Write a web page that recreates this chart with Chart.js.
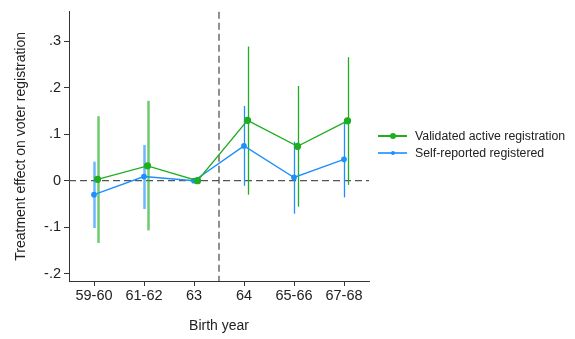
<!DOCTYPE html>
<html lang="en">
<head>
    <meta charset="UTF-8">
    <title>Treatment effect by birth year</title>
    <script src="https://cdn.jsdelivr.net/npm/chart.js"></script>
    <style>
        body {
            margin: 0;
            padding: 0;
            background: #fff;
            font-family: 'Liberation Sans', Arial, sans-serif;
        }
        #wrap {
            position: relative;
            width: 575px;
            height: 339px;
        }
        .legend {
            position: absolute;
            left: 378px;
            top: 127px;
            font-size: 12.3px;
            color: #222;
        }
        .legend-item {
            display: flex;
            align-items: center;
            height: 17.5px;
        }
        .legend-item .mark {
            position: relative;
            width: 29px;
            height: 1.5px;
            margin-right: 8px;
        }
        .legend-item .mark span {
            position: absolute;
            left: 50%;
            top: 50%;
            border-radius: 50%;
            transform: translate(-50%, -50%);
        }
        .green .mark { background: #1fae1f; }
        .green .mark span { width: 6px; height: 6px; background: #1fae1f; }
        .blue .mark { background: #4aa3ff; height: 2px; }
        .blue .mark span { width: 4px; height: 4px; background: #1e8fff; }
    </style>
</head>
<body>
    <div id="wrap">
        <canvas id="chart"></canvas>
        <div class="legend">
            <div class="legend-item green"><div class="mark"><span></span></div>Validated active registration</div>
            <div class="legend-item blue"><div class="mark"><span></span></div>Self-reported registered</div>
        </div>
    </div>

    <script>
        // data
        const categories = ['59-60', '61-62', '63', '64', '65-66', '67-68'];
        const yTicks = [-0.2, -0.1, 0, 0.1, 0.2, 0.3];

        const validated = [0.003, 0.032, 0, 0.130, 0.074, 0.129];
        const validatedLo = [-0.134, -0.107, null, -0.030, -0.056, -0.009];
        const validatedHi = [0.139, 0.172, null, 0.289, 0.204, 0.266];

        const selfReported = [-0.030, 0.009, 0, 0.075, 0.007, 0.046];
        const selfReportedLo = [-0.102, -0.061, null, -0.011, -0.071, -0.036];
        const selfReportedHi = [0.041, 0.077, null, 0.161, 0.084, 0.129];

        const cutoff = 2.5;   // between 63 and 64
        const greenShift = 0.07;

        const GREEN = '#1fae1f';
        const BLUE = '#1e8fff';

        function pts(vals, shift) {
            return vals.map((v, i) => ({ x: i + shift, y: v }));
        }

        // confidence intervals + reference lines, drawn through the chart scales
        const extras = {
            id: 'extras',
            beforeDatasetsDraw(chart) {
                const { ctx, chartArea: a, scales: { x, y } } = chart;
                ctx.save();
                ctx.strokeStyle = '#555';
                ctx.lineWidth = 1.3;
                ctx.setLineDash([7, 4]);
                const y0 = y.getPixelForValue(0);
                ctx.beginPath();
                ctx.moveTo(a.left, y0);
                ctx.lineTo(a.right, y0);
                ctx.stroke();
                const xc = x.getPixelForValue(cutoff);
                ctx.beginPath();
                ctx.moveTo(xc, a.top);
                ctx.lineTo(xc, a.bottom);
                ctx.stroke();
                ctx.setLineDash([]);

                const bars = [
                    [selfReportedLo, selfReportedHi, 0, BLUE, 'rgba(30,143,255,0.65)'],
                    [validatedLo, validatedHi, greenShift, GREEN, 'rgba(31,174,31,0.65)']
                ];
                bars.forEach(([lo, hi, shift, col, light]) => {
                    lo.forEach((l, i) => {
                        if (l === null) return;
                        const px = Math.round(x.getPixelForValue(i + shift)) + 0.5;
                        ctx.strokeStyle = i < 2 ? light : col;
                        ctx.lineWidth = i < 2 ? 2.5 : 1.3;
                        ctx.beginPath();
                        ctx.moveTo(px, y.getPixelForValue(l));
                        ctx.lineTo(px, y.getPixelForValue(hi[i]));
                        ctx.stroke();
                    });
                });
                ctx.restore();
            }
        };

        const tickFont = { family: "'Liberation Sans', Arial, sans-serif", size: 14.5 };
        const titleFont = { family: "'Liberation Sans', Arial, sans-serif", size: 14 };

        new Chart(document.getElementById('chart'), {
            type: 'scatter',
            data: {
                datasets: [
                    {
                        label: 'Validated active registration',
                        data: pts(validated, greenShift),
                        showLine: true,
                        borderColor: GREEN,
                        backgroundColor: GREEN,
                        borderWidth: 1.3,
                        pointRadius: 3,
                        pointHoverRadius: 3,
                        order: 1
                    },
                    {
                        label: 'Self-reported registered',
                        data: pts(selfReported, 0),
                        showLine: true,
                        borderColor: BLUE,
                        backgroundColor: BLUE,
                        borderWidth: 1.3,
                        pointRadius: 2.2,
                        pointHoverRadius: 2.2,
                        order: 2
                    }
                ]
            },
            options: {
                responsive: true,
                maintainAspectRatio: false,
                animation: false,
                layout: { padding: { top: 10, right: 206, left: 0, bottom: 0 } },
                scales: {
                    x: {
                        type: 'linear',
                        min: -0.5,
                        max: 5.5,
                        afterBuildTicks: s => { s.ticks = categories.map((c, i) => ({ value: i })); },
                        afterFit: s => { s.height = 58; },
                        ticks: {
                            autoSkip: false,
                            maxRotation: 0,
                            color: '#222',
                            font: tickFont,
                            padding: 1,
                            callback: v => categories[v]
                        },
                        grid: { display: true, drawOnChartArea: false, drawTicks: true, tickLength: 5, color: '#333' },
                        border: { display: true, color: '#333', width: 1 },
                        title: {
                            display: true,
                            text: 'Birth year',
                            color: '#222',
                            font: titleFont,
                            padding: { top: 4, bottom: 4 }
                        }
                    },
                    y: {
                        min: -0.216,
                        max: 0.364,
                        afterBuildTicks: s => { s.ticks = yTicks.map(v => ({ value: v })); },
                        afterFit: s => { s.width = 69; },
                        ticks: {
                            color: '#222',
                            font: tickFont,
                            padding: 3,
                            callback: v => {
                                if (Math.abs(v) < 1e-9) return '0';
                                return (v < 0 ? '-' : '') + Math.abs(v).toFixed(1).replace(/^0/, '');
                            }
                        },
                        grid: { display: true, drawOnChartArea: false, drawTicks: true, tickLength: 5, color: '#333' },
                        border: { display: true, color: '#333', width: 1 },
                        title: {
                            display: true,
                            text: 'Treatment effect on voter registration',
                            color: '#222',
                            font: titleFont,
                            padding: { top: 13, bottom: 4 }
                        }
                    }
                },
                plugins: {
                    legend: { display: false },
                    tooltip: { enabled: false }
                }
            },
            plugins: [extras]
        });
    </script>
</body>
</html>
